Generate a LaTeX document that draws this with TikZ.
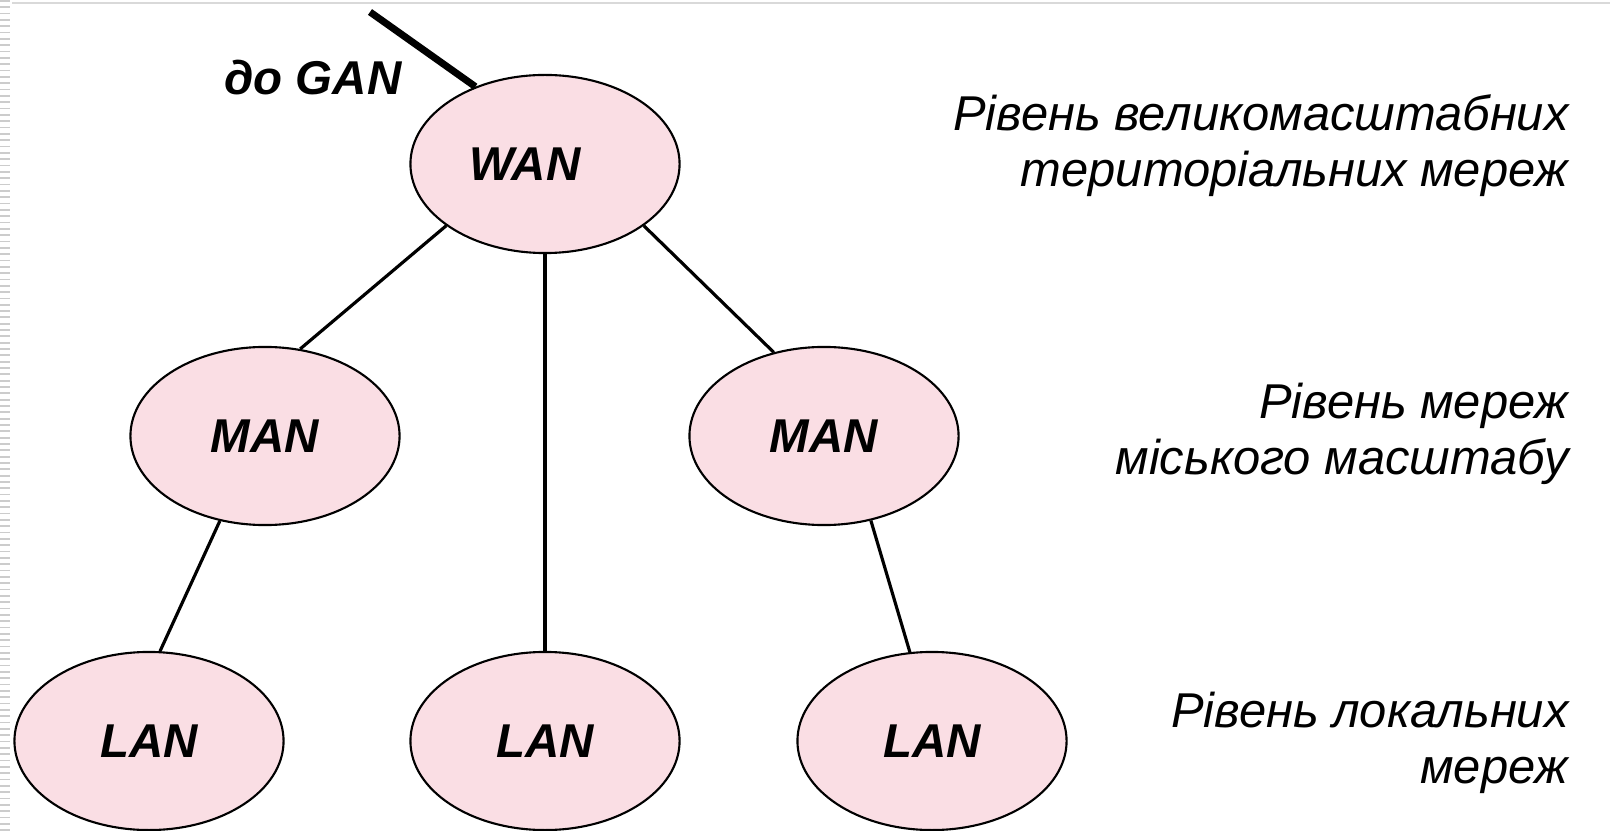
\documentclass[tikz,border=0pt]{standalone}
\usepackage{fontspec}
\setmainfont{Liberation Sans}
\usetikzlibrary{shapes.geometric}
\definecolor{netpink}{RGB}{250,222,228}

\tikzset{
  net/.style={ellipse, draw, line width=0.6pt, fill=netpink,
    minimum width=2.69cm, minimum height=1.78cm, inner sep=0pt,
    font=\fontsize{13.5}{16}\selectfont\bfseries\itshape},
  link/.style={line width=0.9pt},
  level/.style={anchor=east, align=right,
    font=\fontsize{13.9}{15.9}\selectfont\itshape}
}

\begin{document}
\begin{tikzpicture}[x=0.01cm,y=-0.01cm]
\useasboundingbox (0,0) rectangle (1610,831);
% slide frame
\draw[gray!30, line width=0.5pt] (12,3) -- (1610,3);
\draw[gray!40, line width=0.09cm, dash pattern=on 0.5pt off 1.3pt] (5,0) -- (5,831);

% nodes
\node[net] (wan) at (545,164) {WAN\hspace*{0.4cm}};
\node[net] (man1) at (265,436) {MAN};
\node[net] (man2) at (824,436) {MAN};
\node[net] (lan1) at (149,741) {LAN};
\node[net] (lan2) at (545,741) {LAN};
\node[net] (lan3) at (932,741) {LAN};

% links
\coordinate (gan) at (370,12);
\draw[line width=2pt] (gan) -- (wan.132);
\node[font=\fontsize{13.5}{16}\selectfont\bfseries\itshape] (gantext) at (313,78) {до GAN};
\draw[link] (wan.212) -- (man1.68);
\draw[link] (wan.south) -- (lan2.north);
\draw[link] (wan.328) -- (man2.121);
\draw[link] (man1.242) -- (lan1.83);
\draw[link] (man2.299) -- (lan3.104);

% level captions
\node[level] (l1) at (1581,146) {Рівень великомасштабних\\територіальних мереж};
\node[level] (l2) at (1581,434) {Рівень мереж\\міського масштабу};
\node[level] (l3) at (1581,743) {Рівень локальних\\мереж};
\end{tikzpicture}
\end{document}
